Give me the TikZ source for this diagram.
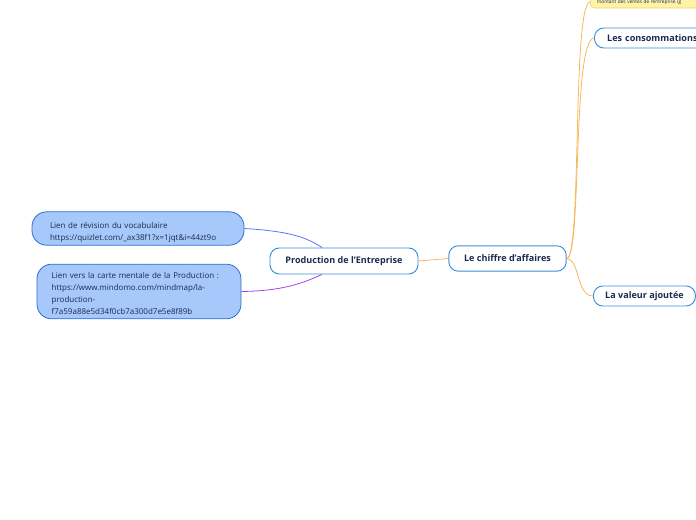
\documentclass[tikz,border=0pt]{standalone}
\usepackage{fontspec}
\setmainfont{Open Sans}
\usepackage{tikz}
\usetikzlibrary{calc}
\definecolor{topicline}{HTML}{3B8FD9}
\definecolor{linkfill}{HTML}{A7C8FA}
\definecolor{linkline}{HTML}{2F6DD3}
\definecolor{navy}{HTML}{1B2A4E}
\definecolor{branch}{HTML}{F7B75A}
\definecolor{bluebranch}{HTML}{4F7BF5}
\definecolor{violetbranch}{HTML}{A545F0}
\definecolor{notefill}{HTML}{FFF3A8}
\definecolor{noteline}{HTML}{F2D35C}
\tikzstyle{topic}=[draw=topicline,fill=white,line width=0.7pt,rounded corners=7pt,text=navy,font=\fontsize{6.8}{8}\selectfont\bfseries,inner sep=0pt]
\tikzstyle{link}=[draw=linkline,fill=linkfill,line width=0.6pt,rounded corners=11pt,text=navy,font=\fontsize{6}{9}\selectfont,inner sep=0pt,align=left]
\tikzstyle{note}=[draw=noteline,fill=notefill,rounded corners=3pt,text=navy,font=\fontsize{3.6}{4.5}\selectfont,inner sep=0pt,anchor=west]
\tikzstyle{edge} = [draw,line width=0.6pt,-]

\begin{document}
\begin{tikzpicture}[x=0.75pt,y=-0.75pt]
        \useasboundingbox (0,0) rectangle (696,520);
        \clip (0,0) rectangle (696,520);
        % main topics
        \node[topic,minimum width=111pt,minimum height=19.5pt] (prod) at (344,261) {Production de l'Entreprise};
        \node[topic,minimum width=88pt,minimum height=19pt] (ca) at (507.5,258.5) {Le chiffre d'affaires};
        \node[topic,minimum width=90pt,minimum height=15pt,anchor=west,text width=90pt,align=left] (conso) at (594,38) {\hspace*{9.5pt}Les consommations};
        \node[topic,minimum width=76.5pt,minimum height=15pt,anchor=west] (va) at (593,296) {La valeur ajout\'ee};
        \node[note,minimum width=90pt,minimum height=9pt,text width=86pt,align=left] (ventes) at (590,2) {\hspace*{3pt}montant des ventes de l'entreprise (g};
        % links
        \node[link,minimum width=159pt,minimum height=25pt,text width=132pt,text height=11pt] (lien1) at (138,228.5) {Lien de r\'evision du vocabulaire\\https://quizlet.com/\_ax38f1?x=1jqt\&i=44zt9o};
        \node[link,minimum width=153pt,minimum height=41pt,text width=131pt,text height=7.6pt] (lien2) at (139,291.5) {Lien vers la carte mentale de la Production :\\https://www.mindomo.com/mindmap/la-\\production-\\f7a59a88e5d34f0cb7a300d7e5e8f89b};
        % connectors
        \draw[edge,bluebranch] (lien1.east) .. controls (285,231) and (305,236) .. ($(prod.north)+(-22,0)$);
        \draw[edge,violetbranch] (lien2.east) .. controls (285,291) and (305,282) .. ($(prod.south)+(-22,0)$);
        \draw[edge,branch] (prod.east) -- (ca.west);
        \draw[edge,branch] (ca.east) .. controls (582,259) and (572,40) .. (conso.west);
        \draw[edge,branch] (ca.east) .. controls (582,259) and (572,4) .. (ventes.west);
        \draw[edge,branch] (ca.east) .. controls (580,259) and (576,296) .. (va.west);
      \end{tikzpicture}
\end{document}
